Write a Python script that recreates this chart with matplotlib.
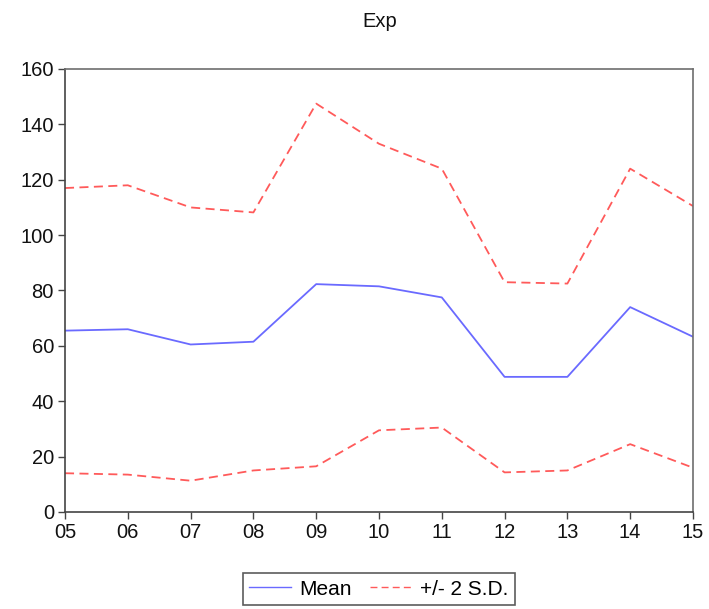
import matplotlib

matplotlib.use("Agg")
import matplotlib.pyplot as plt

plt.rcParams["font.family"] = ["Liberation Sans", "DejaVu Sans"]

years = ["05", "06", "07", "08", "09", "10", "11", "12", "13", "14", "15"]
mean = [65.5, 66.0, 60.5, 61.5, 82.3, 81.5, 77.5, 48.8, 48.8, 74.0, 63.3]
upper = [117.0, 118.0, 110.0, 108.2, 147.5, 133.0, 124.0, 83.0, 82.5, 124.0, 110.5]
lower = [14.0, 13.5, 11.3, 15.0, 16.5, 29.5, 30.5, 14.3, 15.0, 24.5, 16.0]

_BLUE = "#6a6aff"
_RED = "#ff5a5a"
_FRAME = "#6e6e6e"

fig = plt.figure(figsize=(7.09, 6.09), dpi=100)
ax = fig.add_axes([0.0917, 0.1593, 0.8857, 0.7274])

x = list(range(len(years)))
ax.plot(x, mean, color=_BLUE, linewidth=1.3, label="Mean")
ax.plot(x, upper, color=_RED, linewidth=1.3, dashes=(5, 3), label="+/- 2 S.D.")
ax.plot(x, lower, color=_RED, linewidth=1.3, dashes=(5, 3))

ax.set_xlim(0, len(years) - 1)
ax.set_ylim(0, 160)
ax.set_xticks(x, years)
ax.set_yticks(range(0, 161, 20))
ax.tick_params(labelsize=14.5, length=5, width=1, color="#444444", labelcolor="#111111")
ax.tick_params(axis="x", pad=3)
ax.tick_params(axis="y", pad=3)
for name, spine in ax.spines.items():
    spine.set_edgecolor(_FRAME if name in ("top", "right") else "#444444")
    spine.set_linewidth(1.2)

fig.text(0.535, 0.965, "Exp", ha="center", va="center", fontsize=14.5, color="#111111")

leg = fig.legend(
    handles=ax.get_lines()[:2],
    loc="center",
    bbox_to_anchor=(0.5345, 0.0325),
    ncol=2,
    fontsize=15,
    frameon=True,
    fancybox=False,
    handlelength=2.0,
    handletextpad=0.4,
    columnspacing=0.9,
    borderpad=0.3,
    borderaxespad=0,
)
leg.get_frame().set_edgecolor("#333333")
leg.get_frame().set_linewidth(1.2)
for line in leg.get_lines():
    line.set_linewidth(1.0)

fig.savefig("out.png", dpi=100, facecolor="white")
